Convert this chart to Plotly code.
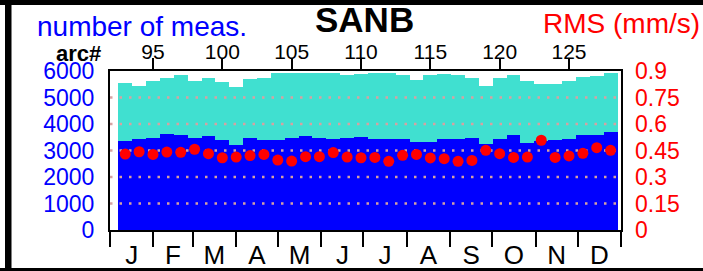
import plotly.graph_objects as go

# ---------------- data ----------------
arcs = list(range(93, 129))
total_meas = [5536, 5434, 5636, 5749, 5862, 5610, 5736, 5573, 5384, 5698, 5736, 5913,
              5937, 5937, 5913, 5937, 5837, 5875, 5937, 5937, 5862, 5661, 5850, 5875,
              5837, 5749, 5434, 5749, 5837, 5610, 5510, 5510, 5636, 5786, 5824, 5913]
used_meas = [3359, 3422, 3472, 3623, 3597, 3459, 3535, 3397, 3208, 3459, 3384, 3384,
             3472, 3548, 3459, 3422, 3472, 3522, 3434, 3434, 3422, 3334, 3334, 3422,
             3434, 3472, 3233, 3422, 3573, 3296, 3346, 3384, 3422, 3573, 3573, 3699]
rms = [0.430, 0.443, 0.428, 0.441, 0.440, 0.457, 0.432, 0.409, 0.413, 0.421, 0.428, 0.396,
       0.390, 0.415, 0.415, 0.438, 0.413, 0.409, 0.411, 0.389, 0.423, 0.428, 0.408, 0.404,
       0.389, 0.394, 0.451, 0.432, 0.411, 0.413, 0.508, 0.411, 0.419, 0.434, 0.466, 0.451]

month_letters = ["J", "F", "M", "A", "M", "J", "J", "A", "S", "O", "N", "D"]
month_starts = [0, 31, 59, 90, 120, 151, 181, 212, 243, 273, 304, 334, 365]
month_mids = [(a + b) / 2 for a, b in zip(month_starts[:-1], month_starts[1:])]

arc_ticks = [95, 100, 105, 110, 115, 120, 125]
count_ticks = [0, 1000, 2000, 3000, 4000, 5000, 6000]
grid_levels = [1000, 2000, 3000, 4000, 5000]
rms_ticks = [0, 0.15, 0.3, 0.45, 0.6, 0.75, 0.9]
rms_labels = ["0", "0.15", "0.3", "0.45", "0.6", "0.75", "0.9"]

arc_range = [91.9, 128.75]
day_range = [0, 365]

FONT = "Liberation Sans, Arial, Helvetica, sans-serif"

# geometry helpers (plot area 110..621 x, 71..230 y in pixels)
W, H = 703, 271
L, R, T, B = 110, 621, 71, 230
def px(x):
    return (x - L) / (R - L)
def py(y):
    return (B - y) / (B - T)

fig = go.Figure()

# invisible anchor trace so the month (day-of-year) axis is drawn
fig.add_trace(go.Scatter(x=day_range, y=[0, 0], xaxis="x", yaxis="y", mode="markers",
                         marker=dict(opacity=0, size=1), hoverinfo="skip"))

fig.add_trace(go.Bar(x=arcs, y=total_meas, xaxis="x2", yaxis="y",
                     marker=dict(color="#40E0D0", line=dict(width=0)), width=1.0))
fig.add_trace(go.Bar(x=arcs, y=used_meas, xaxis="x2", yaxis="y",
                     marker=dict(color="#0000FF", line=dict(width=0)), width=1.0))

for g in grid_levels:
    fig.add_trace(go.Scatter(x=arc_range, y=[g, g], xaxis="x2", yaxis="y", mode="lines",
                             line=dict(color="#d6a2a2", width=2.5, dash="2.5px,7px"),
                             hoverinfo="skip"))

fig.add_trace(go.Scatter(x=arcs, y=rms, xaxis="x2", yaxis="y2", mode="markers",
                         marker=dict(color="#FF0000", size=11, line=dict(width=0))))

fig.update_layout(
    width=W, height=H,
    margin=dict(l=L, r=W - R, t=T, b=H - B, pad=0, autoexpand=False),
    paper_bgcolor="white", plot_bgcolor="white",
    showlegend=False, barmode="overlay", bargap=0,
    font=dict(family=FONT, color="black"),
    xaxis=dict(range=day_range, tickmode="array", tickvals=month_mids, ticktext=month_letters,
               ticks="", tickfont=dict(size=26, color="black", family=FONT),
               ticklabelstandoff=1, automargin=False,
               showline=True, linecolor="black", linewidth=2, mirror=True,
               showgrid=False, zeroline=False,
               minor=dict(tickmode="array", tickvals=month_starts, ticks="outside",
                          ticklen=15, tickwidth=2, tickcolor="black", showgrid=False)),
    xaxis2=dict(range=arc_range, overlaying="x", side="top", tickmode="array",
                tickvals=arc_ticks, ticks="outside", ticklen=12, tickwidth=2,
                tickcolor="black", tickfont=dict(size=21, color="black", family=FONT),
                ticklabelstandoff=-9, automargin=False,
                showline=False, showgrid=False, zeroline=False),
    yaxis=dict(range=[0, 6000], tickmode="array", tickvals=count_ticks, ticks="",
               tickfont=dict(size=23, color="#0000FF", family=FONT), ticklabelstandoff=9,
               automargin=False,
               showline=True, linecolor="black", linewidth=2, mirror=True,
               showgrid=False, zeroline=False),
    yaxis2=dict(range=[0, 0.9], overlaying="y", side="right", tickmode="array",
                tickvals=rms_ticks, ticktext=rms_labels, ticks="",
                tickfont=dict(size=23, color="#FF0000", family=FONT), ticklabelstandoff=13,
                automargin=False,
                showgrid=False, zeroline=False, showline=False),
)

annotations = [
    dict(text="<b>SANB</b>", x=px(364), y=py(19), xref="paper", yref="paper",
         xanchor="center", yanchor="middle", showarrow=False,
         font=dict(size=35, color="black", family=FONT)),
    dict(text="number of meas.", x=px(35), y=py(26), xref="paper", yref="paper",
         xanchor="left", yanchor="middle", showarrow=False,
         font=dict(size=28, color="#0000FF", family=FONT)),
    dict(text="RMS (mm/s)", x=px(541), y=py(23), xref="paper", yref="paper",
         xanchor="left", yanchor="middle", showarrow=False,
         font=dict(size=28, color="#FF0000", family=FONT)),
    dict(text="<b>arc#</b>", x=px(103), y=py(53), xref="paper", yref="paper",
         xanchor="right", yanchor="middle", showarrow=False,
         font=dict(size=22, color="black", family=FONT)),
]
fig.update_layout(annotations=annotations)

# outer black frame pieces (image border)
shapes = [
    dict(type="rect", xref="paper", yref="paper", x0=px(0), x1=px(W), y0=py(0), y1=py(5),
         fillcolor="black", line=dict(width=0), layer="above"),
    dict(type="rect", xref="paper", yref="paper", x0=px(5), x1=px(11.5), y0=py(0), y1=py(271),
         fillcolor="black", line=dict(width=0), layer="above"),
    dict(type="rect", xref="paper", yref="paper", x0=px(0), x1=px(W), y0=py(268), y1=py(271),
         fillcolor="black", line=dict(width=0), layer="above"),
]
fig.update_layout(shapes=shapes)

fig.write_html("out.html", config={"displayModeBar": False},
               post_script="document.body.style.margin='0';document.body.style.overflow='hidden';")
